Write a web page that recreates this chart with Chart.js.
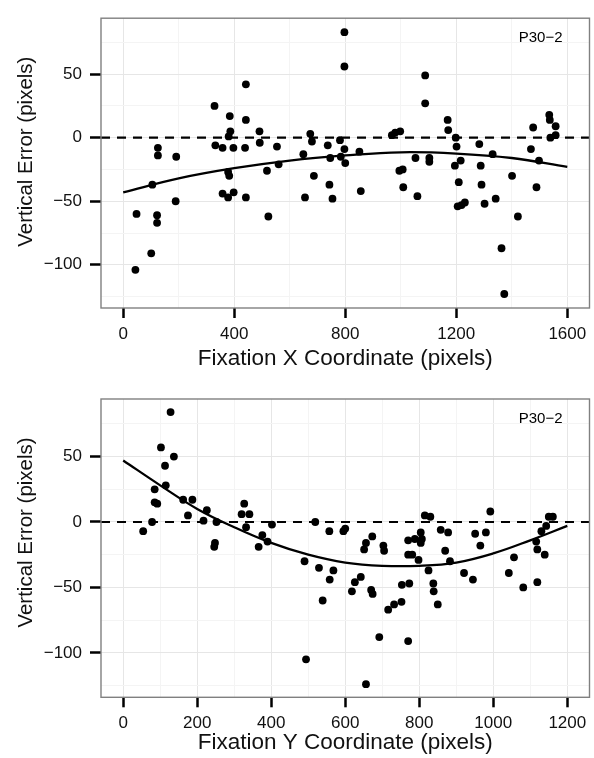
<!DOCTYPE html>
<html>
<head>
<meta charset="utf-8">
<script src="https://cdn.jsdelivr.net/npm/chart.js@4.4.1/dist/chart.umd.min.js"></script>
<style>
  body { margin: 0; background: #fff; }
  canvas { display: block; }
</style>
</head>
<body>
<canvas id="chartX" width="594" height="380"></canvas>
<canvas id="chartY" width="594" height="378"></canvas>
<script>
// Panel 1: fixation x coordinate vs vertical error
const fixX = [44, 48, 101, 105, 122, 122, 125, 125, 191, 189, 329, 332, 358, 358, 378, 378, 382, 384, 386, 380, 397, 398,
  442, 442, 439, 442, 491, 492, 518, 523, 554, 560, 649, 655, 674, 680, 687, 737, 743, 746, 754, 781, 784, 797, 800, 797, 797,
  851, 856, 968, 980, 998, 995, 1007, 1009, 1053, 1060, 1088, 1088, 1103, 1103, 1169, 1171, 1198, 1201, 1195, 1216, 1209,
  1205, 1219, 1231, 1283, 1288, 1291, 1302, 1331, 1342, 1363, 1373, 1401, 1422, 1469, 1477, 1498, 1489, 1535, 1537, 1558, 1539, 1558];
const errX = [-104, -60, -91, -37, -61, -67, -8, -14, -15, -50, 25, -6, -8, -44, -47, -27, -30, 17, 5, 1, -8, -43,
  42, 14, -8, -47, 5, -4, -26, -62, -7, -21, -13, -47, 3, -3, -30, -6, -37, -16, -48, -2, -15, -9, -20, 83, 56,
  -11, -42, 2, 4, 5, -26, -25, -39, -16, -46, 49, 27, -16, -19, 14, 6, 0, -7, -22, -18, -35,
  -54, -53, -51, -5, -22, -37, -52, -13, -48, -87, -123, -30, -62, -9, 8, -18, -39, 18, 14, 9, 0, 2];

// Panel 2: fixation y coordinate vs vertical error
const fixY = [54, 78, 85, 85, 92, 102, 113, 115, 128, 137, 162, 187, 175, 217, 226, 252, 248, 246, 320, 341, 327, 332,
  376, 366, 390, 402, 490, 494, 519, 529, 539, 558, 568, 557, 595, 600,
  618, 626, 642, 651, 656, 673, 670, 674, 656, 692, 716, 732, 752, 703, 705, 753, 773, 770, 770, 770, 781, 788, 798,
  804, 804, 807, 815, 830, 825, 838, 839, 850, 858, 878, 870, 883, 921, 945, 951, 965, 980, 992, 1042, 1056, 1081,
  1116, 1119, 1119, 1139, 1130, 1143, 1150, 1161];
const errY = [-7, 0, 25, 15, 14, 57, 43, 28, 84, 50, 17, 17, 5, 1, 9, 0, -16, -19, 6, 6, 14, -4,
  -10, -19, -15, -2, -30, -105, 0, -35, -60, -44, -37, -7, -7, -5,
  -53, -46, -42, -21, -16, -11, -52, -55, -124, -88, -67, -63, -61, -18, -22, -48, -47, -91, -14, -25, -25, -13, -29,
  -8, -16, -13, 5, 4, -37, -47, -53, -63, -6, -8, -22, -30, -39, -44, -9, -18, -8, 8, -39, -27, -50,
  -15, -21, -46, -25, -7, -3, 4, 4];

// fitted curves
const fitXPos = [0, 200, 400, 600, 800, 1000, 1200, 1400, 1600];
const fitXErr = [-43, -32, -24, -18, -14, -11.5, -12.5, -16, -23];
const fitYPos = [0, 100, 200, 300, 400, 500, 600, 700, 800, 900, 1000, 1100, 1200];
const fitYErr = [47, 28, 10, -4, -16, -25, -31, -33.5, -33.5, -31, -24, -14, -3];

// axis ticks
const errMajor = [-100, -50, 0, 50];
const errMinor = [-125, -75, -25, 25, 75];
const xMajor = [0, 400, 800, 1200, 1600];
const xMinor = [200, 600, 1000, 1400];
const yMajor = [0, 200, 400, 600, 800, 1000, 1200];
const yMinor = [100, 300, 500, 700, 900, 1100];

const FONT = "'Liberation Sans', Arial, sans-serif";

function fmt(v) {
  return String(v).replace('-', '\u2212');
}

function pts(xs, ys) {
  return xs.map((x, i) => ({ x, y: ys[i] }));
}

function axis(major, minor, min, max, isX, tickLen, title) {
  const all = [...major, ...minor].sort((a, b) => a - b);
  return {
    type: 'linear',
    min, max,
    afterBuildTicks: s => { s.ticks = all.map(v => ({ value: v })); },
    afterFit: s => {
      if (isX) s.height = s.chart.height - s.chart.options.plotBottom;
      else s.width = 101;
    },
    grid: {
      color: c => major.includes(c.tick.value) ? '#e6e6e6' : '#f4f4f4',
      lineWidth: 1,
      tickColor: c => major.includes(c.tick.value) ? '#000' : 'rgba(0,0,0,0)',
      tickWidth: 2.5,
      tickLength: tickLen,
    },
    border: { display: false },
    ticks: {
      autoSkip: false,
      maxRotation: 0,
      padding: isX ? 6 : 8,
      color: '#111',
      font: { family: FONT, size: 17 },
      callback: v => major.includes(v) ? fmt(v) : '',
    },
    title: title ? {
      display: true,
      text: title.text,
      color: '#111',
      font: { family: FONT, size: 22.5 },
      padding: { top: 0, bottom: title.pad },
    } : { display: false },
  };
}

// panel border, dashed zero line, panel label, y title
const panelDecor = {
  id: 'panelDecor',
  beforeDatasetsDraw(chart) {
    const { ctx, chartArea: a, scales } = chart;
    const y0 = scales.y.getPixelForValue(0);
    ctx.save();
    ctx.strokeStyle = '#000';
    ctx.lineWidth = 2.2;
    ctx.setLineDash([9, 7]);
    ctx.beginPath();
    ctx.moveTo(a.left, y0);
    ctx.lineTo(a.right, y0);
    ctx.stroke();
    ctx.restore();
  },
  afterDraw(chart, args, opts) {
    const { ctx, chartArea: a } = chart;
    ctx.save();
    ctx.strokeStyle = '#808080';
    ctx.lineWidth = 1.4;
    ctx.strokeRect(a.left, a.top, a.right - a.left, a.bottom - a.top);

    ctx.fillStyle = '#000';
    ctx.font = '15px ' + FONT;
    ctx.textAlign = 'right';
    ctx.textBaseline = 'middle';
    ctx.fillText(opts.label, a.right - 27, a.top + 19.5);

    ctx.fillStyle = '#111';
    ctx.font = '20.5px ' + FONT;
    ctx.textAlign = 'center';
    ctx.translate(26, a.top + 133.5);
    ctx.rotate(-Math.PI / 2);
    ctx.fillText(opts.yTitle, 0, 0);
    ctx.restore();
  }
};

function makeChart(id, xs, ys, fitPos, fitErr, xAxis, plotTop, plotBottom) {
  return new Chart(document.getElementById(id), {
    type: 'scatter',
    data: {
      datasets: [
        {
          data: pts(xs, ys),
          backgroundColor: '#000',
          borderColor: '#000',
          pointRadius: 3.9,
          pointBorderWidth: 0,
        },
        {
          type: 'line',
          data: pts(fitPos, fitErr),
          borderColor: '#000',
          borderWidth: 2.3,
          pointRadius: 0,
          tension: 0.4,
          fill: false,
        }
      ]
    },
    options: {
      responsive: false,
      animation: false,
      plotBottom,
      layout: { padding: { top: plotTop, right: 4.5, left: 0, bottom: 0 } },
      plugins: {
        legend: { display: false },
        tooltip: { enabled: false },
        panelDecor: { label: 'P30\u22122', yTitle: 'Vertical Error (pixels)' },
      },
      scales: {
        x: xAxis,
        y: axis(errMajor, errMinor, -134, 94, false, 11, null),
      }
    },
    plugins: [panelDecor]
  });
}

makeChart('chartX', fixX, errX, fitXPos, fitXErr,
  axis(xMajor, xMinor, -80, 1680, true, 10, { text: 'Fixation X Coordinate (pixels)', pad: 8 }),
  9.3, 308);
makeChart('chartY', fixY, errY, fitYPos, fitYErr,
  axis(yMajor, yMinor, -60, 1260, true, 10, { text: 'Fixation Y Coordinate (pixels)', pad: 1.5 }),
  19, 317.3);
</script>
</body>
</html>
